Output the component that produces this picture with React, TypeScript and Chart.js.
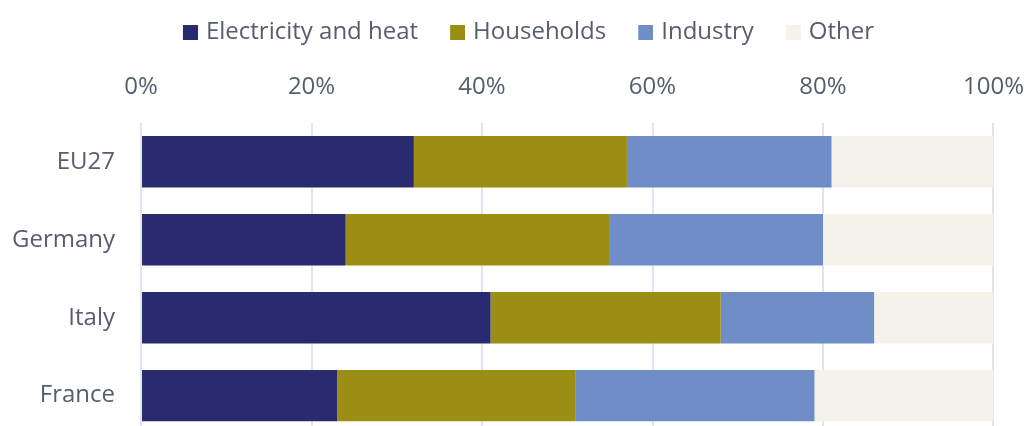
import React, { useEffect, useRef } from "react";
import { Chart, registerables } from "chart.js";

Chart.register(...registerables);

const categories = ["EU27", "Germany", "Italy", "France"];
const seriesNames = ["Electricity and heat", "Households", "Industry", "Other"];
const electricityAndHeat = [32, 24, 41, 23];
const households = [25, 31, 27, 28];
const industry = [24, 25, 18, 28];
const other = [19, 20, 14, 21];
const tickValues = [0, 20, 40, 60, 80, 100];
const colors = ["#2a2a70", "#9b8e15", "#6f8dc7", "#f5f2ea"];

const FONT = "'Open Sans', sans-serif";
const TEXT = "#555e6c";

const SWATCH_OFFSET = 25;
const SWATCH_BOX_WIDTH = 36;

function makeSwatch(color: string): HTMLCanvasElement {
  const c = document.createElement("canvas");
  const W = Math.round(2 * (SWATCH_OFFSET + 15 - SWATCH_BOX_WIDTH / 2));
  c.width = W;
  c.height = 15;
  const ctx = c.getContext("2d")!;
  ctx.fillStyle = color;
  ctx.fillRect(W - 15, 0, 15, 15);
  return c;
}

export default function App() {
  const ref = useRef<HTMLCanvasElement | null>(null);
  useEffect(() => {
    document.body.style.margin = "0";
    const swatches = colors.map(makeSwatch);
    const values = [electricityAndHeat, households, industry, other];
    const chart = new Chart(ref.current!, {
      type: "bar",
      data: {
        labels: categories,
        datasets: seriesNames.map((name, i) => ({
          label: name,
          data: values[i],
          backgroundColor: colors[i],
          borderWidth: 0,
          categoryPercentage: 1,
          barPercentage: 0.66,
        })),
      },
      options: {
        indexAxis: "y",
        responsive: false,
        animation: false,
        layout: { padding: { left: 12, right: 4, top: 13, bottom: 0 } },
        plugins: {
          tooltip: { enabled: false },
          legend: {
            position: "top",
            labels: {
              usePointStyle: true,
              pointStyleWidth: SWATCH_BOX_WIDTH,
              boxHeight: 15,
              padding: 7,
              color: TEXT,
              font: { family: FONT, size: 24 },
              generateLabels: (ch: any) => {
                const items = (Chart.defaults.plugins.legend.labels as any).generateLabels(ch);
                return items.map((it: any, i: number) => ({ ...it, pointStyle: swatches[i] }));
              },
            },
          },
        },
        scales: {
          x: {
            position: "top",
            stacked: true,
            min: 0,
            max: 100,
            afterBuildTicks: (axis: any) => {
              axis.ticks = tickValues.map((v) => ({ value: v }));
            },
            afterFit: (axis: any) => {
              axis.height += 19;
            },
            ticks: {
              callback: (v: any) => v + "%",
              color: TEXT,
              font: { family: FONT, size: 24 },
              padding: 0,
            },
            grid: {
              color: "#e1e4ec",
              lineWidth: 2,
              drawTicks: true,
              tickLength: 21,
              tickColor: "rgba(0,0,0,0)",
            },
            border: { display: false },
          },
          y: {
            stacked: true,
            grid: {
              display: true,
              color: "rgba(0,0,0,0)",
              drawTicks: true,
              tickLength: 26,
              tickColor: "rgba(0,0,0,0)",
            },
            border: { display: false },
            ticks: {
              color: TEXT,
              font: { family: FONT, size: 24 },
              padding: 0,
            },
          },
        },
      },
    });
    return () => chart.destroy();
  }, []);
  return (
    <div style={{ position: "fixed", left: 0, top: 0, width: 1024, height: 426, overflow: "hidden" }}>
      <canvas ref={ref} width={1024} height={449} />
    </div>
  );
}
